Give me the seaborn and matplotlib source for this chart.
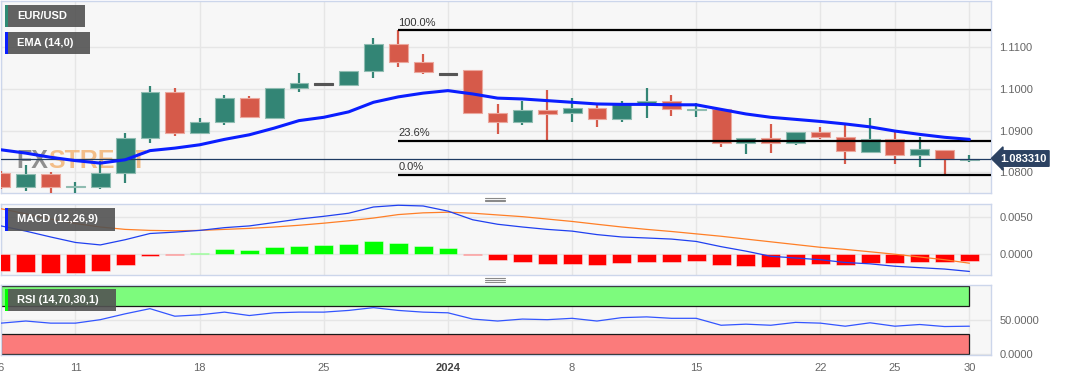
import numpy as np
import pandas as pd
import matplotlib
matplotlib.use('Agg')
import matplotlib.pyplot as plt
import seaborn as sns
from matplotlib.patches import Rectangle
from matplotlib.lines import Line2D

# daily EUR/USD, 6 Dec 2023 - 30 Jan 2024
dates = pd.bdate_range('2023-12-06', '2024-01-30')
opens = [1.0798, 1.0764, 1.0796, 1.0765, 1.0765, 1.0798, 1.0882, 1.0993, 1.0895, 1.0920,
         1.0978, 1.0931, 1.1003, 1.1012, 1.1010, 1.1043, 1.1107, 1.1065, 1.1036, 1.1045,
         1.0943, 1.0921, 1.0950, 1.0943, 1.0955, 1.0928, 1.0964, 1.0971, 1.0951, 1.0952,
         1.0871, 1.0882, 1.0870, 1.0897, 1.0884, 1.0849, 1.0879, 1.0841, 1.0854, 1.0830]
highs = [1.0803, 1.0818, 1.0801, 1.0777, 1.0827, 1.0895, 1.1007, 1.1003, 1.0931, 1.0986,
         1.0984, 1.1003, 1.1039, 1.1012, 1.1043, 1.1123, 1.1141, 1.1084, 1.1036, 1.1046,
         1.0964, 1.0972, 1.0998, 1.0978, 1.0962, 1.0971, 1.1002, 1.0986, 1.0966, 1.0952,
         1.0882, 1.0917, 1.0896, 1.0909, 1.0916, 1.0931, 1.0897, 1.0885, 1.0854, 1.0842]
lows = [1.0760, 1.0756, 1.0745, 1.0745, 1.0760, 1.0774, 1.0871, 1.0888, 1.0895, 1.0914,
        1.0932, 1.0928, 1.0993, 1.1012, 1.1008, 1.1027, 1.1053, 1.1036, 1.1036, 1.0940,
        1.0892, 1.0914, 1.0878, 1.0921, 1.0909, 1.0921, 1.0931, 1.0935, 1.0933, 1.0861,
        1.0844, 1.0847, 1.0866, 1.0880, 1.0820, 1.0847, 1.0820, 1.0813, 1.0794, 1.0825]
closes = [1.0764, 1.0796, 1.0765, 1.0766, 1.0798, 1.0882, 1.0993, 1.0895, 1.0920, 1.0978,
          1.0932, 1.1003, 1.1014, 1.1012, 1.1043, 1.1107, 1.1065, 1.1041, 1.1036, 1.0943,
          1.0921, 1.0950, 1.0939, 1.0955, 1.0928, 1.0964, 1.0972, 1.0951, 1.0952, 1.0871,
          1.0882, 1.0870, 1.0896, 1.0884, 1.0851, 1.0879, 1.0841, 1.0855, 1.0831, 1.08331]
ema14 = [1.0854, 1.0846, 1.0836, 1.0828, 1.0822, 1.0830, 1.0852, 1.0858, 1.0866, 1.0879,
         1.0890, 1.0906, 1.0924, 1.0932, 1.0945, 1.0968, 1.0981, 1.0990, 1.0996, 1.0988,
         1.0978, 1.0976, 1.0972, 1.0968, 1.0964, 1.0963, 1.0963, 1.0962, 1.0962, 1.0951,
         1.0940, 1.0932, 1.0927, 1.0922, 1.0916, 1.0909, 1.0899, 1.0891, 1.0884, 1.0879]
macd = [0.00382, 0.00310, 0.00229, 0.00153, 0.00119, 0.00191, 0.00277, 0.00296, 0.00320, 0.00358,
        0.00382, 0.00429, 0.00477, 0.00515, 0.00558, 0.00644, 0.00668, 0.00658, 0.00587, 0.00467,
        0.00405, 0.00367, 0.00334, 0.00310, 0.00262, 0.00229, 0.00215, 0.00200, 0.00167, 0.00095,
        0.00033, -0.00038, -0.00062, -0.00086, -0.00124, -0.00143, -0.00176, -0.00196, -0.00215, -0.00248]
signal = [0.00620, 0.00549, 0.00477, 0.00415, 0.00367, 0.00334, 0.00320, 0.00315, 0.00320, 0.00334,
          0.00348, 0.00367, 0.00391, 0.00420, 0.00453, 0.00491, 0.00539, 0.00563, 0.00572, 0.00558,
          0.00534, 0.00510, 0.00477, 0.00444, 0.00405, 0.00367, 0.00334, 0.00305, 0.00272, 0.00239,
          0.00200, 0.00162, 0.00124, 0.00086, 0.00057, 0.00024, -0.00010, -0.00048, -0.00086, -0.00134]
hist = [-0.00239, -0.00253, -0.00272, -0.00272, -0.00239, -0.00157, -0.00033, -0.00014, 0.00010, 0.00057,
        0.00052, 0.00091, 0.00110, 0.00114, 0.00129, 0.00167, 0.00148, 0.00110, 0.00072, -0.00024,
        -0.00095, -0.00119, -0.00143, -0.00143, -0.00157, -0.00138, -0.00119, -0.00119, -0.00110, -0.00153,
        -0.00172, -0.00181, -0.00153, -0.00143, -0.00153, -0.00129, -0.00129, -0.00119, -0.00119, -0.00105]
rsi = [45.4, 48.5, 45.4, 45.4, 50.5, 59.1, 66.7, 55.6, 57.6, 61.6,
       56.6, 60.6, 61.6, 61.6, 64.1, 68.2, 64.1, 61.6, 60.6, 51.4,
       48.5, 51.4, 50.5, 52.5, 48.5, 53.5, 54.6, 52.5, 52.5, 42.3,
       43.9, 42.3, 46.5, 45.4, 40.9, 45.9, 40.9, 43.4, 40.4, 40.9]

tick_dates = ['2023-12-06', '2023-12-11', '2023-12-18', '2023-12-25', '2024-01-01',
              '2024-01-08', '2024-01-15', '2024-01-22', '2024-01-25', '2024-01-30']
price_ticks = [1.08, 1.09, 1.10, 1.11]
fib_levels = [0.0, 0.236, 1.0]
fib_from, fib_to = 16, 38   # candle of the high / candle of the low
last_price = 1.083310

GREEN, RED, FLAT = '#338575', '#d65a4a', '#555555'
GRID, SPINE, BG = '#e6e6e6', '#ccd6eb', '#f7f7f7'

sns.set_theme(style='whitegrid')
plt.rcParams['font.family'] = ['Liberation Sans', 'DejaVu Sans']

W, H = 1067, 376
fig = plt.figure(figsize=(W / 100, H / 100), dpi=100)


def px_axes(left, top, right, bottom):
    return fig.add_axes([left / W, 1 - bottom / H, (right - left) / W, (bottom - top) / H])


ax_p = px_axes(1, 1, 991, 193)
ax_m = px_axes(1, 203.6, 991, 274.9)
ax_r = px_axes(1, 285.2, 991, 355.1)

idx = np.arange(len(dates))
o, h, l, c = map(np.array, (opens, highs, lows, closes))
tick_pos = [dates.get_loc(pd.Timestamp(d)) for d in tick_dates]
tick_lab = ['2024' if d.endswith('01-01') else str(pd.Timestamp(d).day) for d in tick_dates]

# ---- price panel
col = np.where(c > o, GREEN, np.where(c < o, RED, FLAT))
edge = np.where(c > o, '#8fbcb1', np.where(c < o, '#eba79d', FLAT))
minh = 0.0003
body = np.abs(c - o)
bot = np.where(body < minh, (o + c) / 2 - minh / 2, np.minimum(o, c))
ax_p.vlines(idx, l, h, colors=col, lw=1.6, zorder=3)
ax_p.bar(idx, np.maximum(body, minh), bottom=bot, width=0.76, color=col,
         edgecolor=edge, linewidth=0.8, zorder=4)
sns.lineplot(x=idx, y=ema14, ax=ax_p, color='#0a1eff', lw=2.2, zorder=6)
ax_p.axhline(last_price, color='#1f3b63', lw=0.9, zorder=5)

hi, lo = h[fib_from], l[fib_to]
for f in fib_levels:
    lvl = lo + f * (hi - lo)
    ax_p.plot([fib_from, 40.5], [lvl, lvl], color='black', lw=1.6, zorder=5, solid_capstyle='butt')
    ax_p.text(fib_from, lvl + 0.0006, f'{f * 100:.1f}%', fontsize=8, color='#333333',
              ha='left', va='bottom', zorder=6)

# watermark
fx = ax_p.text(15 / 990, 0.165, 'FX', transform=ax_p.transAxes, fontsize=18, fontweight='bold',
               color='#7d7d7d', alpha=0.85, va='center', ha='left', zorder=2)
ax_p.annotate('STREET', xy=(1, 0.5), xycoords=fx, fontsize=18, fontweight='bold',
              color='#f2b06c', alpha=0.8, va='center', ha='left', zorder=2)

ax_p.annotate(f'{last_price:.6f}', xy=(1.0, last_price), xycoords=ax_p.get_yaxis_transform(),
              xytext=(1.009, last_price), textcoords=ax_p.get_yaxis_transform(),
              fontsize=8, fontweight='bold', color='white', ha='left', va='center', zorder=10,
              bbox=dict(boxstyle='larrow,pad=0.25', fc='#2c4262', ec='#2c4262'),
              annotation_clip=False)

ax_p.set_ylim(1.07503, 1.12111)
ax_p.set_yticks(price_ticks)
ax_p.set_yticklabels([f'{v:.4f}' for v in price_ticks])

# ---- MACD panel
sign = np.where(np.array(hist) >= 0, 'up', 'down')
sns.barplot(x=idx, y=hist, hue=sign, palette={'up': '#00ff00', 'down': '#ff0000'},
            native_scale=True, width=0.76, dodge=False, legend=False, saturation=1,
            linewidth=0.6, edgecolor='#ffffff80', ax=ax_m, zorder=3)
sns.lineplot(x=idx, y=signal, ax=ax_m, color='#ff7f27', lw=0.9, zorder=4)
sns.lineplot(x=idx, y=macd, ax=ax_m, color='#2040f0', lw=0.9, zorder=5)
ax_m.set_ylim(-0.00296, 0.00691)
ax_m.set_yticks([0.0, 0.005])
ax_m.set_yticklabels(['0.0000', '0.0050'])

# ---- RSI panel
ax_r.add_patch(Rectangle((0, 70), idx[-1], 30, fc='#7dfb7d', ec='#1a1a1a', lw=0.9, zorder=2))
ax_r.add_patch(Rectangle((0, 0), idx[-1], 30, fc='#fb7b7b', ec='#1a1a1a', lw=0.9, zorder=2))
sns.lineplot(x=idx, y=rsi, ax=ax_r, color='#3355ff', lw=0.9, zorder=4)
ax_r.set_ylim(-1.6, 101.2)
ax_r.set_yticks([0, 50])
ax_r.set_yticklabels(['0.0000', '50.0000'])

for ax in (ax_p, ax_m, ax_r):
    ax.set_facecolor(BG)
    ax.set_xlim(0.0, 39.87)
    ax.set_xticks(tick_pos)
    ax.set_xticklabels(tick_lab if ax is ax_r else [])
    ax.set_xlabel('')
    ax.set_ylabel('')
    ax.set_axisbelow(True)
    ax.grid(True, color=GRID, lw=1)
    ax.yaxis.tick_right()
    ax.tick_params(axis='y', length=0, pad=6, labelsize=8, labelcolor='#666666')
    ax.tick_params(axis='x', length=0, pad=6, labelsize=8, labelcolor='#666666')
    for s in ax.spines.values():
        s.set_color(SPINE)
        s.set_linewidth(1)
for t in ax_r.get_xticklabels():
    if t.get_text() == '2024':
        t.set_fontweight('bold')
        t.set_color('#444444')

# ---- legend boxes
def label_box(x, y, w, hgt, text, strip):
    fig.add_artist(Rectangle((x / W, 1 - (y + hgt) / H), w / W, hgt / H, transform=fig.transFigure,
                             fc=(0.32, 0.32, 0.32, 0.9), ec='none', zorder=20))
    fig.add_artist(Rectangle((x / W, 1 - (y + hgt) / H), 3 / W, hgt / H, transform=fig.transFigure,
                             fc=strip, ec='none', zorder=21))
    fig.text((x + 12) / W, 1 - (y + hgt / 2) / H, text, color='white', fontsize=8,
             fontweight='bold', va='center', ha='left', zorder=22)


label_box(5, 5, 80, 22, 'EUR/USD', '#2e8b74')
label_box(5, 32, 85, 22, 'EMA (14,0)', '#0a1eff')
label_box(5, 208, 110, 23, 'MACD (12,26,9)', '#0a1eff')
label_box(5, 289, 111, 22, 'RSI (14,70,30,1)', '#00ff00')

# panel resize handles
for yy in (197.8, 199.6, 201.4, 278.0, 279.8, 281.6):
    fig.add_artist(Line2D([485 / W, 505 / W], [1 - yy / H, 1 - yy / H], transform=fig.transFigure,
                          color='#8a8a8a', lw=0.8))

fig.savefig('out.png', dpi=100, facecolor='white')
